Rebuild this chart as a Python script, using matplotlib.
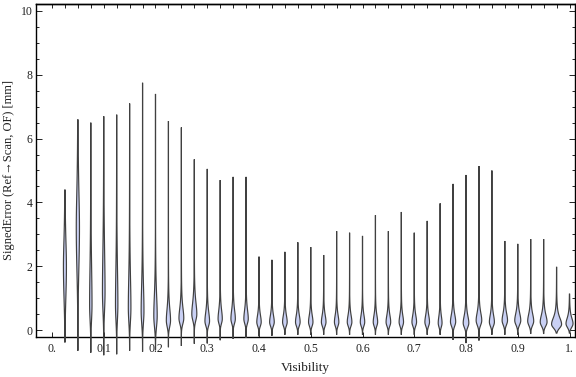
import numpy as np
import matplotlib
matplotlib.use("Agg")
import matplotlib.pyplot as plt
from matplotlib.ticker import FixedLocator, NullFormatter

# ---------------- data ----------------
visibility = [0.025, 0.05, 0.075, 0.1, 0.125, 0.15, 0.175, 0.2, 0.225, 0.25,
              0.275, 0.3, 0.325, 0.35, 0.375, 0.4, 0.425, 0.45, 0.475, 0.5,
              0.525, 0.55, 0.575, 0.6, 0.625, 0.65, 0.675, 0.7, 0.725, 0.75,
              0.775, 0.8, 0.825, 0.85, 0.875, 0.9, 0.925, 0.95, 0.975, 1.0]

err_max = [4.40, 6.60, 6.50, 6.70, 6.75, 7.10, 7.75, 7.40, 6.55, 6.35,
           5.35, 5.05, 4.70, 4.80, 4.80, 2.30, 2.20, 2.45, 2.75, 2.60,
           2.35, 3.10, 3.05, 2.95, 3.60, 3.10, 3.70, 3.05, 3.42, 3.97,
           4.58, 4.86, 5.14, 5.00, 2.79, 2.70, 2.85, 2.85, 1.98, 1.13]

err_min = [-0.39, -0.65, -0.71, -0.79, -0.76, -0.65, -0.68, -0.63, -0.54, -0.50,
           -0.43, -0.42, -0.32, -0.28, -0.25, -0.20, -0.18, -0.15, -0.15, -0.15,
           -0.15, -0.15, -0.15, -0.15, -0.15, -0.15, -0.15, -0.15, -0.15, -0.15,
           -0.31, -0.41, -0.33, -0.15, -0.15, -0.15, -0.12, -0.12, -0.10, -0.10]

err_mode = [2.0, 3.2, 0.8, 1.2, 0.8, 0.7, 0.6, 0.45, 0.3, 0.37,
            0.5, 0.28, 0.35, 0.35, 0.35, 0.25, 0.25, 0.25, 0.25, 0.25,
            0.25, 0.25, 0.25, 0.25, 0.25, 0.25, 0.25, 0.25, 0.25, 0.22,
            0.26, 0.22, 0.3, 0.25, 0.3, 0.3, 0.28, 0.25, 0.18, 0.2]

# relative peak density (violin half-width at the mode)
peak_density = [1.5, 1.6, 1.2, 1.3, 1.2, 1.3, 1.4, 1.7, 2.1, 2.4,
                2.5, 2.3, 2.1, 2.2, 2.2, 2.2, 2.3, 2.3, 2.3, 2.2,
                2.3, 2.2, 2.3, 2.2, 2.2, 2.3, 2.2, 2.3, 2.3, 1.9,
                2.6, 2.8, 2.8, 2.5, 2.7, 3.0, 3.0, 3.4, 5.0, 3.5]

spread_below = [1.0, 1.3, 0.5, 0.6, 0.5, 0.45, 0.4, 0.35, 0.2, 0.18,
                0.2, 0.15, 0.15, 0.15, 0.15, 0.13, 0.13, 0.13, 0.13, 0.13,
                0.13, 0.13, 0.13, 0.13, 0.13, 0.13, 0.13, 0.13, 0.13, 0.13,
                0.14, 0.14, 0.15, 0.13, 0.14, 0.14, 0.14, 0.13, 0.12, 0.12]

spread_above = [1.0, 1.4, 1.5, 1.6, 1.4, 1.2, 1.0, 0.8, 0.45, 0.4,
                0.45, 0.35, 0.35, 0.35, 0.35, 0.27, 0.27, 0.27, 0.27, 0.27,
                0.27, 0.27, 0.27, 0.27, 0.27, 0.27, 0.27, 0.27, 0.27, 0.27,
                0.28, 0.28, 0.3, 0.28, 0.28, 0.28, 0.28, 0.28, 0.25, 0.22]

x_ticks = [0.0, 0.1, 0.2, 0.3, 0.4, 0.5, 0.6, 0.7, 0.8, 0.9, 1.0]
x_tick_labels = ["0.", "0.1", "0.2", "0.3", "0.4", "0.5", "0.6", "0.7", "0.8", "0.9", "1."]
y_ticks = [0, 2, 4, 6, 8, 10]
y_tick_labels = ["0", "2", "4", "6", "8", "10"]

# ---------------- figure ----------------
W, H = 576, 377
fig = plt.figure(figsize=(W / 100, H / 100), dpi=100)
left_px, right_px, top_px, bottom_px = 36, 575, 4, 337
ax = fig.add_axes([left_px / W, 1 - bottom_px / H,
                   (right_px - left_px) / W, (bottom_px - top_px) / H])

xlim = (-0.0309, 1.0106)
ylim = (-0.219, 10.219)
ax.set_xlim(*xlim)
ax.set_ylim(*ylim)

px_to_x = (xlim[1] - xlim[0]) / (right_px - left_px)

fill_col = "#c9d0f4"
edge_col = "#404040"

for pos, lo, hi, m, dens, sl, sh in zip(visibility, err_min, err_max, err_mode,
                                         peak_density, spread_below, spread_above):
    y = np.linspace(lo, hi, 600)
    d = y - m
    below = np.exp(-0.5 * (d / sl) ** 2)
    above = (1 + (d / sh) ** 2 / 2.0) ** (-1.5)
    prof = np.where(d < 0, below, above)
    prof[0] = 0.0
    prof[-1] = 0.0
    half = prof * dens * px_to_x
    xs = np.concatenate([pos - half, (pos + half)[::-1]])
    ys = np.concatenate([y, y[::-1]])
    ax.fill(xs, ys, facecolor=fill_col, edgecolor=edge_col, linewidth=0.85,
            clip_on=False, zorder=3)

serif = ["Liberation Serif", "DejaVu Serif"]
tick_col = "#222222"

ax.xaxis.set_major_locator(FixedLocator(x_ticks))
ax.set_xticklabels(x_tick_labels, family=serif, fontsize=8.5, color=tick_col)
ax.yaxis.set_major_locator(FixedLocator(y_ticks))
ax.set_yticklabels(y_tick_labels, family=serif, fontsize=8.5, color=tick_col)
ax.yaxis.set_minor_locator(FixedLocator(np.arange(0, 10.01, 0.5)))

ax.tick_params(axis="x", which="major", direction="in", length=3.6, width=0.6,
               pad=4, top=False)
ax.tick_params(axis="y", which="major", direction="in", length=4.3, width=0.6,
               pad=2.5, right=True)
ax.tick_params(axis="y", which="minor", direction="in", length=2.2, width=0.6,
               right=True)

top = ax.secondary_xaxis("top")
top.xaxis.set_major_locator(FixedLocator(np.arange(0, 1.001, 0.025)))
top.xaxis.set_major_formatter(NullFormatter())
top.tick_params(direction="in", length=2.9, width=0.6)
top.spines["top"].set_linewidth(1.0)

for s in ax.spines.values():
    s.set_linewidth(1.0)
    s.set_zorder(2)

ax.set_xlabel("Visibility", family=serif, fontsize=9.5, color=tick_col, labelpad=5)
ax.set_ylabel("SignedError (Ref\u2192Scan, OF) [mm]", family=serif, fontsize=9,
              color=tick_col, labelpad=4)

fig.savefig("out.png", dpi=100)
